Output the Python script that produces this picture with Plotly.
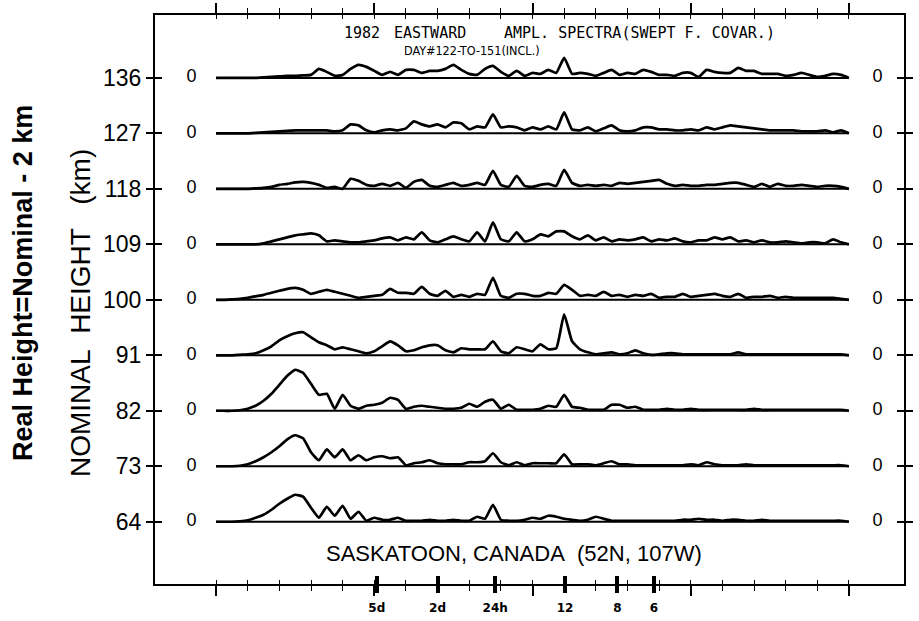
import plotly.graph_objects as go

# Nominal heights of the stacked spectra (km), top to bottom
heights = [136, 127, 118, 109, 100, 91, 82, 73, 64]
height_labels = ["136", "127", "118", "109", "100", "91", "82", "73", "64"]

# Frequency sample positions along the swept-frequency axis (axis units)
freq_u = [i * 0.25 for i in range(81)]

# Tick marks of the frequency axis
major_ticks = [0, 5, 10, 15, 20]
minor_ticks = [1, 2, 3, 4, 6, 7, 8, 9, 11, 12, 13, 14, 16, 17, 18, 19]
period_pos = [5.08, 7.0, 8.82, 11.03, 12.68, 13.84]
period_labels = ["5d", "2d", "24h", "12", "8", "6"]

# Amplitude spectra (arbitrary amplitude units), one list per height
amp_136 = [0, 0, 0, 0, 0, 0, 0.5, 1, 1.5, 2, 2, 2.5, 3, 9, 6, 2, 3, 9, 13, 11,
           7, 3, 6, 3, 8, 8, 5, 7, 7, 9, 13, 8, 4, 3, 9, 12, 6, 2, 7, 2,
           5, 4, 8, 5, 20, 4, 5, 4, 2, 5, 8, 3, 5, 4, 8, 6, 3, 3, 2, 5,
           5, 1, 8, 6, 5, 5, 10, 7, 7, 4, 4, 4, 2, 3, 5, 3, 1, 2, 4, 3, 0]
amp_127 = [0, 0, 0, 0, 0, 0.5, 1, 1.5, 2, 2.5, 3, 3, 3, 3, 3, 2, 3, 9, 8, 3,
           1, 3, 4, 3, 5, 12, 9, 7, 9, 6, 11, 10, 4, 7, 6, 19, 6, 7, 6, 3,
           6, 4, 7, 4, 21, 4, 3, 6, 2, 5, 8, 3, 2, 3, 6, 6, 4, 4, 3, 3,
           4, 3, 6, 4, 6, 8, 7, 6, 5, 4, 3, 3, 3, 3, 2, 2, 2, 3, 1, 3, 0]
amp_118 = [0, 0, 0, 0, 0, 0.5, 1, 2, 4, 5, 6.5, 7, 6, 4, 1, 2, 0, 10, 8, 4,
           3, 5, 3, 6, 1, 7, 9, 3, 2, 4, 6, 3, 4, 6, 4, 18, 4, 2, 13, 3,
           2, 4, 5, 3, 19, 6, 3, 4, 3, 4, 3, 6, 5, 6, 7, 8, 9, 5, 3, 4,
           3, 3, 4, 4, 5, 6, 6, 4, 2, 5, 2, 5, 3, 3, 4, 3, 2, 3, 3, 2, 0]
amp_109 = [0, 0, 0, 0, 0, 0, 1, 3, 5, 7, 9, 10, 11, 9, 3, 4, 3, 2, 2, 3,
           4, 6, 7, 4, 7, 5, 12, 4, 2, 5, 8, 5, 3, 12, 3, 22, 5, 3, 12, 3,
           5, 10, 8, 13, 13, 8, 5, 9, 4, 7, 3, 5, 4, 5, 7, 3, 5, 4, 6, 3,
           2, 4, 4, 7, 5, 7, 3, 4, 2, 4, 2, 2, 3, 2, 1, 2, 2, 1, 5, 2, 0]
amp_100 = [0, 0, 0.5, 1, 2, 3.5, 5, 7, 9, 11, 12, 10, 6, 8, 10, 8, 6, 4, 2, 3,
           4, 5, 11, 7, 7, 6, 13, 6, 4, 9, 3, 5, 3, 6, 5, 22, 4, 2, 6, 6,
           4, 4, 7, 6, 15, 10, 4, 5, 4, 8, 4, 5, 3, 5, 4, 6, 2, 3, 3, 6,
           3, 4, 5, 6, 4, 3, 6, 2, 3, 3, 4, 2, 3, 2, 2, 2, 2, 2, 2, 1, 0]
amp_91 = [0, 0, 0, 0.5, 1, 2, 5, 9, 15, 19, 22, 23, 18, 13, 10, 6, 8, 6, 4, 2,
          4, 9, 14, 10, 4, 5, 8, 10, 10, 5, 3, 7, 6, 6, 6, 14, 4, 2, 8, 6,
          4, 11, 6, 7, 41, 14, 6, 3, 1, 2, 3, 1, 2, 5, 2, 0.5, 1, 2, 2, 1,
          1, 1, 1, 1, 1, 1, 3, 1, 1, 1, 1, 1, 1, 1, 1, 1, 1, 1, 1, 1, 0]
amp_82 = [0, 0, 0, 0.5, 2, 5, 10, 17, 26, 35, 41, 38, 27, 16, 17, 2, 16, 5, 2, 5,
          6, 8, 13, 11, 2, 4, 5, 4, 3, 2, 2, 3, 7, 4, 9, 11, 2, 6, 1, 1,
          1, 2, 5, 4, 16, 4, 3, 1, 1, 1, 6, 6, 3, 4, 1, 1, 1, 2, 1, 1,
          2, 1, 1, 1, 1, 1, 1, 1, 2, 1, 1, 1, 1, 1, 1, 1, 1, 1, 1, 1, 0]
amp_73 = [0, 0, 0, 0.5, 2, 5, 9, 14, 20, 27, 31, 28, 14, 6, 17, 9, 17, 6, 11, 6,
          9, 10, 8, 9, 1, 3, 4, 6, 3, 2, 2, 2, 4, 4, 5, 13, 4, 1, 4, 1,
          3, 3, 3, 3, 12, 2, 2, 2, 1, 3, 5, 2, 2, 1, 1, 1, 1, 1, 1, 1,
          2, 1, 4, 2, 1, 1, 1, 2, 1, 1, 1, 1, 1, 1, 1, 1, 1, 1, 1, 1, 0]
amp_64 = [0, 0, 0, 0.5, 1.5, 4, 7, 12, 18, 23, 27, 25, 14, 4, 15, 6, 16, 3, 10, 1,
          4, 2, 2, 4, 1, 1, 1, 2, 1, 1, 2, 1, 1, 5, 3, 17, 2, 1, 1, 2,
          4, 3, 6, 5, 3, 2, 1, 2, 5, 3, 1, 1, 1, 1, 1, 1, 1, 1, 1, 2,
          2, 3, 2, 2, 1, 2, 2, 1, 1, 2, 1, 1, 1, 1, 1, 1, 1, 1, 1, 1, 0]

spectra = [amp_136, amp_127, amp_118, amp_109, amp_100, amp_91, amp_82, amp_73, amp_64]

# Height offset (km) corresponding to one amplitude unit
AMP_SCALE = 9 / 55.5

X_RANGE = [-1.93, 21.74]
Y_RANGE = [53.9, 146.2]

# Positions of the "0" reference labels at each end of the spectra
ZERO_LEFT, ZERO_RIGHT = -0.78, 20.9

fig = go.Figure()
for h, amp in zip(heights, spectra):
    # zero line of each spectrum (drawn on the overlay axes so they render)
    fig.add_trace(go.Scatter(
        x=[freq_u[0], freq_u[-1]], y=[h, h], mode="lines",
        xaxis="x2", yaxis="y2",
        line=dict(color="black", width=2), hoverinfo="skip", showlegend=False))
    fig.add_trace(go.Scatter(
        x=freq_u, y=[h + v * AMP_SCALE for v in amp], mode="lines",
        line=dict(color="black", width=2.7, shape="spline", smoothing=0.45),
        showlegend=False))

zero_font = dict(size=18, family="Liberation Sans", color="black")
fig.add_trace(go.Scatter(
    x=[ZERO_LEFT] * len(heights), y=heights, mode="text", text=["0"] * len(heights),
    textfont=zero_font, xaxis="x3", yaxis="y", hoverinfo="skip", showlegend=False))
fig.add_trace(go.Scatter(
    x=[ZERO_RIGHT] * len(heights), y=heights, mode="text", text=["0"] * len(heights),
    textfont=zero_font, xaxis="x4", yaxis="y", hoverinfo="skip", showlegend=False))

L, T, W, H = 155, 15, 749, 569


def px(xp):
    return (xp - L) / W


def py(yp):
    return (T + H - yp) / H


annotations = []
mono = dict(size=15, family="DejaVu Sans Mono", color="black")
narrow = dict(size=12.5, family="Liberation Sans Narrow, DejaVu Sans Condensed, Liberation Sans",
              color="black")
for text, xl, yc, f in [("1982", 342, 33, mono), ("EASTWARD", 392, 33, mono),
                        ("AMPL. SPECTRA(SWEPT F. COVAR.)", 502, 33, mono),
                        ("DAY#122-TO-151(INCL.)", 402, 51, narrow)]:
    annotations.append(dict(x=px(xl), y=py(yc), xref="paper", yref="paper",
                            text=text, showarrow=False, font=f,
                            xanchor="left", yanchor="middle"))

annotations.append(dict(
    x=px(514), y=py(553), xref="paper", yref="paper",
    text="SASKATOON, CANADA\u00a0 (52N, 107W)", showarrow=False,
    font=dict(size=22, family="Liberation Sans", color="black"),
    xanchor="center", yanchor="middle"))

annotations.append(dict(
    x=px(80), y=py(313), xref="paper", yref="paper",
    text="NOMINAL\u00a0\u00a0HEIGHT\u00a0\u00a0\u00a0(km)", showarrow=False, textangle=-90,
    font=dict(size=28, family="Liberation Sans", color="black"),
    xanchor="center", yanchor="middle"))

annotations.append(dict(
    x=px(23), y=py(283), xref="paper", yref="paper",
    text="<b>Real Height=Nominal - 2 km</b>", showarrow=False, textangle=-90,
    font=dict(size=27, family="Liberation Sans", color="black"),
    xanchor="center", yanchor="middle"))

fig.update_layout(
    template="none",
    width=919, height=621,
    margin=dict(l=L, r=919 - L - W, t=T, b=621 - T - H, autoexpand=False),
    paper_bgcolor="white", plot_bgcolor="white",
    showlegend=False,
    annotations=annotations,
    xaxis=dict(
        range=X_RANGE, showgrid=False, zeroline=False, automargin=False,
        showline=True, linecolor="black", linewidth=2, mirror="ticks",
        ticks="outside", tickvals=major_ticks, ticklen=10, tickwidth=1.5,
        tickcolor="black", showticklabels=False,
        minor=dict(tickvals=minor_ticks, ticks="outside", ticklen=5,
                   tickwidth=1.2, tickcolor="black", showgrid=False)),
    xaxis2=dict(
        range=X_RANGE, overlaying="x", side="bottom", anchor="y2", automargin=False,
        showgrid=False, zeroline=False, showline=False, mirror="ticks",
        ticks="inside", tickvals=major_ticks + minor_ticks, ticklen=4,
        tickwidth=1.2, tickcolor="black", showticklabels=False),
    xaxis3=dict(
        range=X_RANGE, overlaying="x", side="bottom", anchor="y", automargin=False,
        showgrid=False, zeroline=False, showline=False,
        ticks="outside", tickvals=period_pos, ticktext=period_labels,
        ticklen=8, tickwidth=3.5, tickcolor="black", ticklabelstandoff=5,
        tickfont=dict(size=12, family="DejaVu Sans", color="black", weight="bold")),
    xaxis4=dict(
        range=X_RANGE, overlaying="x", side="bottom", anchor="y", automargin=False,
        showgrid=False, zeroline=False, showline=False,
        ticks="inside", tickvals=period_pos, ticklen=8, tickwidth=3.5,
        tickcolor="black", showticklabels=False),
    yaxis=dict(
        range=Y_RANGE, showgrid=False, zeroline=False, automargin=False,
        showline=True, linecolor="black", linewidth=2, mirror="ticks",
        ticks="outside", tickvals=heights, ticktext=height_labels,
        ticklen=7, tickwidth=1.5, tickcolor="black",
        tickfont=dict(size=23, family="Liberation Sans", color="black")),
    yaxis2=dict(
        range=Y_RANGE, overlaying="y", side="left", anchor="x2", automargin=False,
        showgrid=False, zeroline=False, showline=False, mirror="ticks",
        ticks="inside", tickvals=heights, ticklen=7, tickwidth=1.5,
        tickcolor="black", showticklabels=False),
)

fig.write_html("out.html")
